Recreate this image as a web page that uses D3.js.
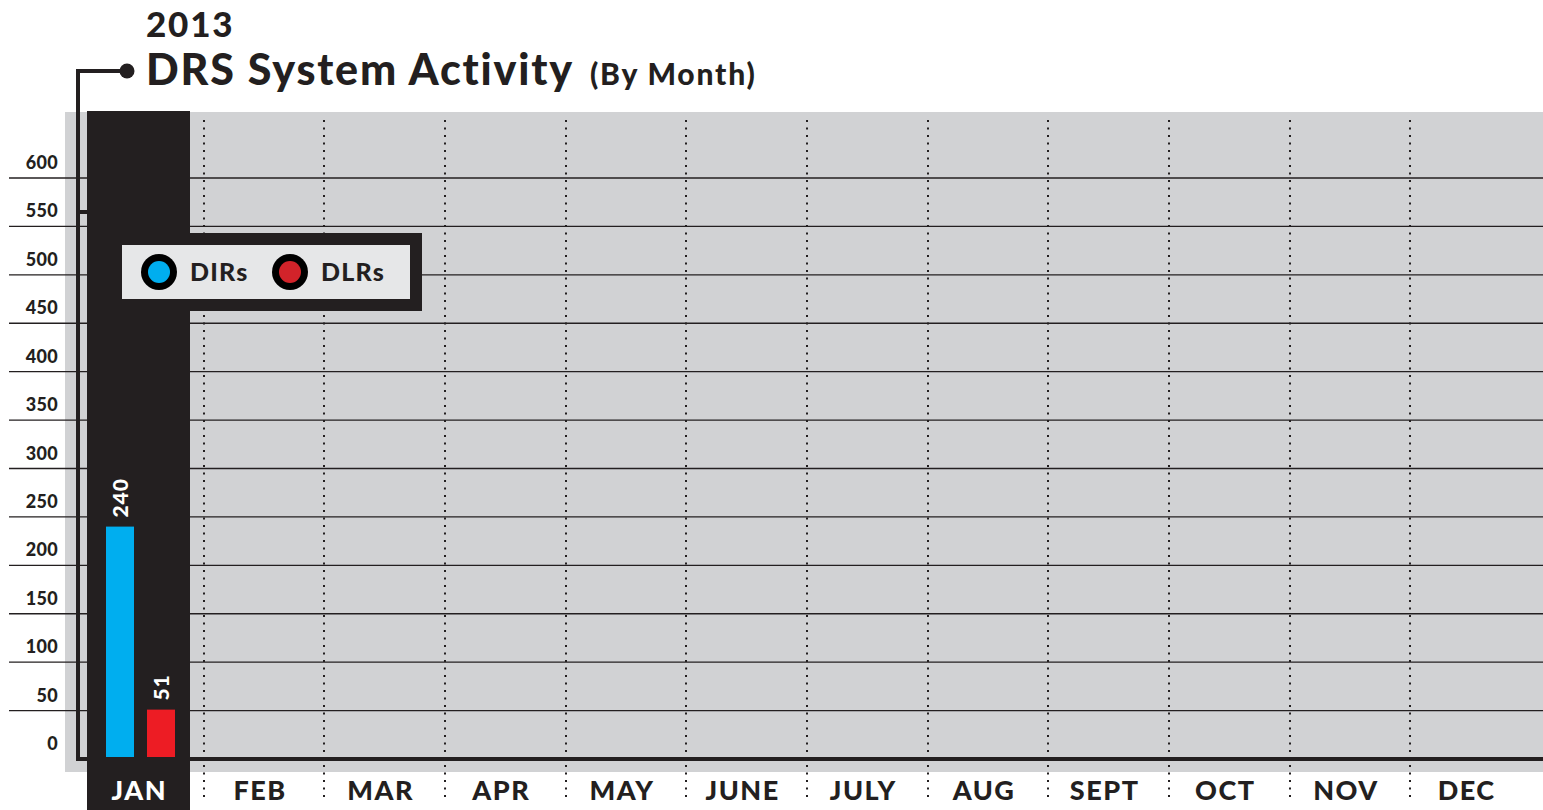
<!DOCTYPE html>
<html>
<head>
<meta charset="utf-8">
<script src="https://cdn.jsdelivr.net/npm/d3@7"></script>
<style>
html,body{margin:0;padding:0;background:#fff;}
svg{display:block;}
text{font-family:Lato,"Open Sans",sans-serif;font-weight:900;}
</style>
</head>
<body>
<svg id="chart" width="1543" height="810"></svg>
<script>
const months = ["JAN","FEB","MAR","APR","MAY","JUNE","JULY","AUG","SEPT","OCT","NOV","DEC"];
const series = ["DIRs","DLRs"];
const dirs = [240];
const dlrs = [51];
const yTicks = [0,50,100,150,200,250,300,350,400,450,500,550,600];
const titleYear = "2013";
const titleMain = "DRS System Activity";
const titleSub = "(By Month)";
const colors = {DIRs:"#00aeef", DLRs:"#ed1c24"};
const legendColors = {DIRs:"#00aeef", DLRs:"#d2232a"};

const svg = d3.select("#chart");
const W = 1543, H = 810;
const dark = "#231f20";

const x = d3.scaleBand().domain(months).range([83, 1531]).padding(0);
const y = d3.scaleLinear().domain([0,600]).range([759,178]);

// gray plot background
svg.append("rect").attr("x",65).attr("y",112).attr("width",W-65).attr("height",772-112).attr("fill","#d1d2d4");

// gridlines
svg.append("g").selectAll("line").data(yTicks.filter(d=>d>0)).join("line")
  .attr("x1",9).attr("x2",W).attr("y1",d=>y(d)).attr("y2",d=>y(d))
  .attr("stroke",dark).attr("stroke-width",1.4);

// y tick labels
svg.append("g").selectAll("text").data(yTicks).join("text")
  .attr("x",58).attr("y",d=>y(d)-9).attr("text-anchor","end")
  .attr("font-size",18).attr("letter-spacing",0.3).attr("fill",dark).text(d=>d);

// dotted month dividers
const dividers = months.slice(1);
const dg = svg.append("g");
dividers.forEach(m=>{
  const xp = Math.round(x(m));
  const dots = d3.range(121, 801, 7.5);
  dg.selectAll(null).data(dots).join("rect")
    .attr("x",xp-1).attr("y",d=>d-1).attr("width",2).attr("height",2).attr("fill",dark);
});

// highlighted JAN column
const colX = x("JAN")+4;
svg.append("rect").attr("x",colX).attr("y",111).attr("width",103).attr("height",H-111).attr("fill",dark);

// bars
const xs = d3.scaleBand().domain(series).range([x("JAN")+23, x("JAN")+92]).paddingInner(0.317).paddingOuter(0);
const barData = [];
months.forEach((m,i)=>{
  if (dirs[i]!==undefined) barData.push({m, s:"DIRs", v:dirs[i]});
  if (dlrs[i]!==undefined) barData.push({m, s:"DLRs", v:dlrs[i]});
});
const bg = svg.append("g");
bg.selectAll("rect").data(barData).join("rect")
  .attr("x",d=>x(d.m)+xs(d.s)-x("JAN")).attr("y",d=>y(d.v))
  .attr("width",xs.bandwidth()).attr("height",d=>y(0)-y(d.v))
  .attr("fill",d=>colors[d.s]);
bg.selectAll("text").data(barData).join("text")
  .attr("transform",d=>`translate(${x(d.m)+xs(d.s)-x("JAN")+xs.bandwidth()/2+8},${y(d.v)-9}) rotate(-90)`)
  .attr("font-size",21).attr("letter-spacing",1).attr("fill","#fff").text(d=>d.v);

// baseline + bracket
svg.append("line").attr("x1",78).attr("x2",W).attr("y1",759).attr("y2",759).attr("stroke",dark).attr("stroke-width",4);
svg.append("path").attr("d","M78,761 V71 H122").attr("fill","none").attr("stroke",dark).attr("stroke-width",4);
svg.append("line").attr("x1",78).attr("x2",88).attr("y1",212).attr("y2",212).attr("stroke",dark).attr("stroke-width",4);
svg.append("circle").attr("cx",127).attr("cy",71).attr("r",7.5).attr("fill",dark);

// month labels
svg.append("g").selectAll("text").data(months).join("text")
  .attr("x",d=>x(d)+x.bandwidth()/2-4).attr("y",800).attr("text-anchor","middle")
  .attr("font-size",27).attr("letter-spacing",1.5).attr("fill",d=>d==="JAN"?"#fff":dark).text(d=>d);

// legend
const lg = svg.append("g");
lg.append("rect").attr("x",110).attr("y",233).attr("width",312).attr("height",78).attr("fill",dark);
lg.append("rect").attr("x",122).attr("y",245).attr("width",288).attr("height",54).attr("fill","#e6e7e8");
const legX = {DIRs:159, DLRs:290};
series.forEach(s=>{
  lg.append("circle").attr("cx",legX[s]).attr("cy",272).attr("r",18).attr("fill","#000");
  lg.append("circle").attr("cx",legX[s]).attr("cy",272).attr("r",11).attr("fill",legendColors[s]);
  lg.append("text").attr("x",legX[s]+31).attr("y",281).attr("font-size",25).attr("letter-spacing",1.2).attr("fill",dark).text(s);
});

// title
svg.append("text").attr("x",146).attr("y",37).attr("font-size",35).attr("letter-spacing",1.8).attr("fill",dark).text(titleYear);
const t = svg.append("text").attr("x",146).attr("y",85).attr("fill",dark);
t.append("tspan").attr("font-size",43).attr("letter-spacing",1.8).text(titleMain);
t.append("tspan").attr("font-size",30).attr("letter-spacing",1.8).attr("dx",16).text(titleSub);
</script>
</body>
</html>
